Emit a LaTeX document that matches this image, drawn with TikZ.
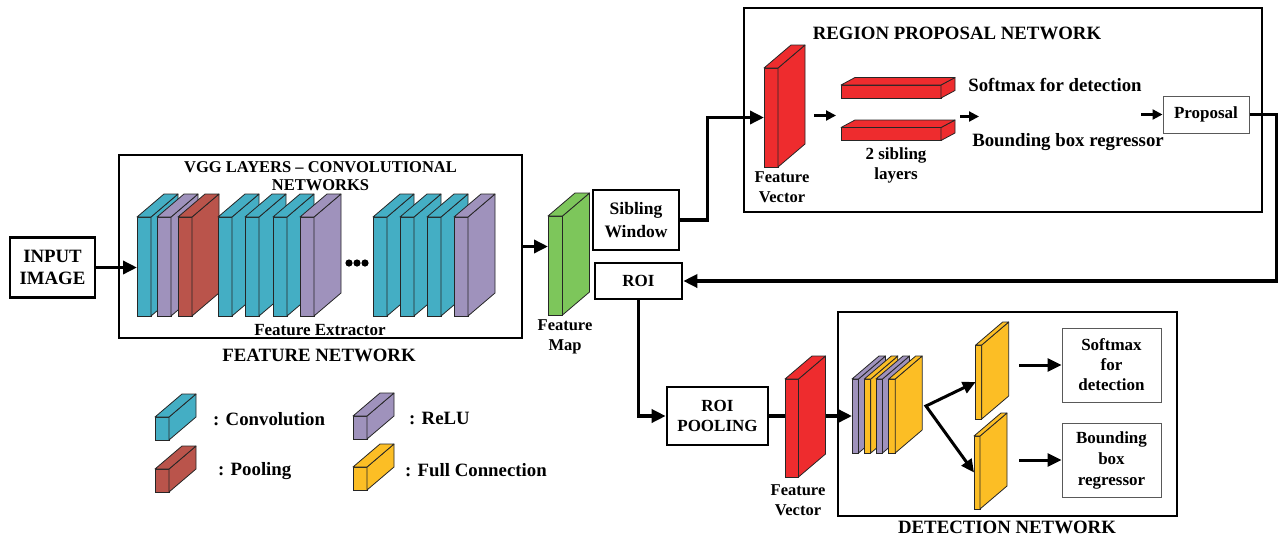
\documentclass[tikz,border=0pt]{standalone}
\usepackage{fontspec}
\setmainfont{Liberation Serif}
\usetikzlibrary{arrows.meta,positioning}

\definecolor{convcol}{HTML}{44AEC4}
\definecolor{relucol}{HTML}{9F92BC}
\definecolor{poolcol}{HTML}{BA544B}
\definecolor{mapcol}{HTML}{7DC65B}
\definecolor{veccol}{HTML}{EE2C2E}
\definecolor{fccol}{HTML}{FCBE25}

\tikzset{
  bigtxt/.style={font=\fontsize{18.8}{22}\selectfont\bfseries, align=center, inner sep=0pt},
  midtxt/.style={font=\fontsize{17}{20}\selectfont\bfseries, align=center, inner sep=0pt},
  box/.style={draw, line width=2.6pt, inner sep=0pt, midtxt},
  thinbox/.style={draw=black!65, line width=1pt, inner sep=0pt, midtxt},
  slabface/.style={draw=black!85, line width=0.8pt, inner sep=0pt, outer sep=0pt, anchor=north west},
  slabedge/.style={draw=black!85, line width=0.8pt, line join=round},
  conn/.style={line width=3.4pt, -{Triangle[length=14pt,width=13pt]}},
  smallconn/.style={line width=2.2pt, -{Triangle[length=10pt,width=10pt]}},
}

% slab: name, x, y, width, height, depth x, depth y, colour
\newcommand{\slab}[8]{%
  \node[slabface, fill=#8, minimum width=#4pt, minimum height=#5pt] (#1) at (#2,#3) {};
  \draw[slabedge, fill=#8] (#1.north east) -- ++(#6,#7) -- ++(0,#5) -- (#1.south east) -- cycle;
  \draw[slabedge, fill=#8] (#1.north west) -- ++(#6,#7) -- ++(#4,0) -- (#1.north east) -- cycle;
}

\begin{document}
\begin{tikzpicture}[x=1pt,y=-1pt]
  \useasboundingbox (0,0) rectangle (1278,539);

  % feature network
  \node[box, bigtxt, minimum width=85pt, minimum height=60pt] (inimg) at (52.5,267.5) {INPUT\\IMAGE};
  \node[box, minimum width=403pt, minimum height=183pt] (featnet) at (320.5,246.5) {};
  \node[midtxt, font=\fontsize{16.5}{18.5}\selectfont\bfseries] (vggtitle) at (320.5,176) {VGG LAYERS -- CONVOLUTIONAL\\NETWORKS};
  \foreach \nm/\xx/\cc in {c1/137/convcol, r1/157/relucol, p1/178/poolcol, c2/218/convcol,
      c3/245/convcol, c4/273/convcol, r2/300/relucol, c5/373/convcol, c6/400/convcol,
      c7/427/convcol, r3/454/relucol}
    \slab{\nm}{\xx}{217}{14}{99}{27}{-23}{\cc};
  \foreach \xx in {349,357,365}
    \fill (\xx,263) circle (3.6);
  \node[midtxt] (featext) at (320,330) {Feature Extractor};
  \node[bigtxt] (featname) at (319,355) {FEATURE NETWORK};
  \draw[conn] (inimg.east) -- (inimg.east -| c1.west);

  % feature map
  \slab{fmap}{548}{216}{14.5}{99}{27}{-23}{mapcol}
  \node[midtxt, font=\fontsize{16.5}{20}\selectfont\bfseries] (fmaplbl) at (565,337) {Feature\\Map};
  \draw[conn] (featnet.east) -- (featnet.east -| fmap.west);

  \node[box, font=\fontsize{17.5}{22.5}\selectfont\bfseries, minimum width=86pt, minimum height=60pt] (sib) at (636,220) {Sibling\\Window};
  \node[box, minimum width=87pt, minimum height=36pt] (roi) at (638.5,281) {ROI};

  % region proposal network
  \node[box, line width=2.2pt, minimum width=518pt, minimum height=204pt] (rpn) at (1003,110) {};
  \node[bigtxt] (rpntitle) at (957,33.5) {REGION PROPOSAL NETWORK};
  \slab{rfv}{764}{68}{14}{99}{27}{-23}{veccol}
  \node[midtxt, font=\fontsize{16.5}{20}\selectfont\bfseries] (rfvlbl) at (782,187) {Feature\\Vector};
  \slab{bar1}{841}{85}{100}{13}{14}{-7.5}{veccol}
  \slab{bar2}{841}{127.5}{100}{13}{14}{-7.5}{veccol}
  \node[midtxt] (siblbl) at (896,165) {2 sibling\\layers};
  \node[bigtxt] (smxlbl) at (1055,85) {Softmax for detection};
  \node[bigtxt] (bbrlbl) at (1068,142) {Bounding box regressor};
  \node[thinbox, minimum width=86pt, minimum height=37pt] (prop) at (1206,114.5) {Proposal};
  \coordinate (rpna) at (814,115.5);
  \coordinate (rpnb) at (836,115.5);
  \coordinate (rpnc) at (960,116.5);
  \coordinate (rpnd) at (979,116.5);
  \coordinate (rpne) at (1141,114.5);
  \draw[smallconn] (rpna) -- (rpnb);
  \draw[smallconn] (rpnc) -- (rpnd);
  \draw[smallconn] (rpne) -- (prop.west);

  \draw[conn] (sib.east) -- ++(27,0) |- (rfv.west);
  \draw[conn] (prop.east) -- ++(27,0) |- (roi.east);

  % detection network
  \node[box, minimum width=101pt, minimum height=58pt] (roipool) at (717.5,416) {ROI\\POOLING};
  \draw[conn] (roi.south) |- (roipool.west);
  \slab{dfv}{785}{379}{13.5}{98}{27}{-23}{veccol}
  \node[midtxt, font=\fontsize{16.5}{20}\selectfont\bfseries] (dfvlbl) at (798,500) {Feature\\Vector};
  \draw[line width=3.4pt] (roipool.east) -- (roipool.east -| dfv.west);

  \node[box, line width=2.4pt, minimum width=339pt, minimum height=204pt] (detnet) at (1007.5,414) {};
  \node[bigtxt] (detname) at (1007,527) {DETECTION NETWORK};
  \foreach \nm/\xx/\cc in {d1/852/relucol, d2/864.3/fccol, d3/876/relucol, d4/888.7/fccol}
    \slab{\nm}{\xx}{379}{6.5}{74}{27}{-23}{\cc};
  \draw[conn] ([xshift=27pt]dfv.east |- roipool.east) -- (roipool.east -| d1.west);
  \slab{fc1}{975.7}{345}{6}{74}{27}{-23}{fccol}
  \slab{fc2}{974}{436}{6}{73}{27}{-23}{fccol}
  \coordinate (brn) at (926,406);
  \draw[line width=3pt, {Triangle[length=13pt,width=12pt]}-{Triangle[length=13pt,width=12pt]}] (fc1.west) -- (brn) -- (fc2.west);

  \node[thinbox, minimum width=99pt, minimum height=74pt] (smx) at (1111.5,365) {Softmax\\for\\detection};
  \node[thinbox, font=\fontsize{17}{21}\selectfont\bfseries, minimum width=99pt, minimum height=74pt] (bbx) at (1111.5,460) {Bounding\\box\\regressor};
  \coordinate (smxa) at (1019,365);
  \coordinate (bbxa) at (1019,460);
  \draw[conn, line width=3pt] (smxa) -- (smx.west);
  \draw[conn, line width=3pt] (bbxa) -- (bbx.west);

  % legend
  \slab{lgconv}{155}{417}{14}{23}{27}{-23}{convcol}
  \slab{lgpool}{155}{469}{14}{23}{27}{-23}{poolcol}
  \slab{lgrelu}{353}{416}{14}{23}{27}{-23}{relucol}
  \slab{lgfc}{353}{467}{14}{23}{27}{-23}{fccol}
  \node[bigtxt, anchor=west] (lgconvlbl) at (213,419) {: Convolution};
  \node[bigtxt, anchor=west] (lgpoollbl) at (218,471) {: Pooling};
  \node[bigtxt, anchor=west] (lgrelulbl) at (409,418) {: ReLU};
  \node[bigtxt, anchor=west] (lgfclbl) at (405,470) {: Full Connection};
\end{tikzpicture}
\end{document}
